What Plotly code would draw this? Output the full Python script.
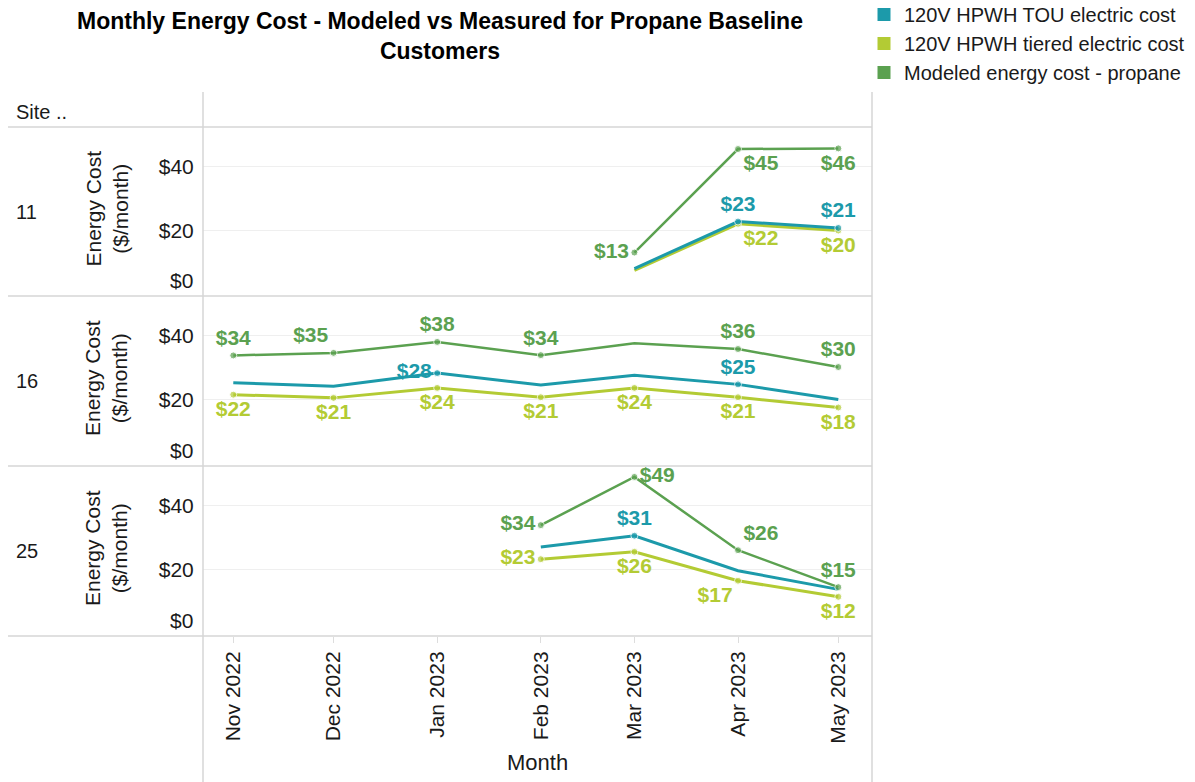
import plotly.graph_objects as go

# ---------------- data ----------------
months = ["2022-11-01", "2022-12-01", "2023-01-01", "2023-02-01",
          "2023-03-01", "2023-04-01", "2023-05-01"]
month_labels = ["Nov 2022", "Dec 2022", "Jan 2023", "Feb 2023",
                "Mar 2023", "Apr 2023", "May 2023"]
sites = ["11", "16", "25"]
series_names = ["120V HPWH TOU electric cost",
                "120V HPWH tiered electric cost",
                "Modeled energy cost - propane"]
y_tick_vals = [20, 40]
y_tick_text = ["$20", "$40"]
y_zero_text = "$0"

site11_tou = [None, None, None, None, 8.0, 22.7, 20.7]
site11_tiered = [None, None, None, None, 7.4, 22.0, 19.9]
site11_propane = [None, None, None, None, 13.0, 45.4, 45.6]

site16_tou = [25.3, 24.2, 28.3, 24.6, 27.6, 24.8, 20.1]
site16_tiered = [21.6, 20.6, 23.7, 20.8, 23.7, 20.8, 17.6]
site16_propane = [33.8, 34.6, 38.0, 33.9, 37.6, 35.8, 30.2]

site25_tou = [None, None, None, 27.1, 30.6, 19.7, 13.9]
site25_tiered = [None, None, None, 23.3, 25.6, 16.6, 11.6]
site25_propane = [None, None, None, 33.9, 48.9, 26.1, 14.6]

# which points carry a data label in the reference (1 = labelled)
site11_tou_lbl = [0, 0, 0, 0, 0, 1, 1]
site11_tiered_lbl = [0, 0, 0, 0, 0, 1, 1]
site11_propane_lbl = [0, 0, 0, 0, 1, 1, 1]
site16_tou_lbl = [0, 0, 1, 0, 0, 1, 0]
site16_tiered_lbl = [1, 1, 1, 1, 1, 1, 1]
site16_propane_lbl = [1, 1, 1, 1, 0, 1, 1]
site25_tou_lbl = [0, 0, 0, 0, 1, 0, 0]
site25_tiered_lbl = [0, 0, 0, 1, 1, 1, 1]
site25_propane_lbl = [0, 0, 0, 1, 1, 1, 1]

# ---------------- styling ----------------
W, H = 1195, 782
FONT = "Liberation Sans, Arial, sans-serif"
colors = {"tou": "#1C9AAA", "tiered": "#B3CB34", "propane": "#5BA150"}
widths = {"tou": 3, "tiered": 3, "propane": 2.5}

pos = {
    ("11", "tou"): ["top center"] * 7,
    ("11", "tiered"): ["bottom center"] * 5 + ["bottom right", "bottom center"],
    ("11", "propane"): ["top center"] * 4 + ["middle left", "bottom right", "bottom center"],
    ("16", "tou"): ["top center", "top center", "middle left", "top center",
                    "top center", "top center", "top center"],
    ("16", "tiered"): ["bottom center"] * 7,
    ("16", "propane"): ["top center", "top left", "top center", "top center",
                        "top center", "top center", "top center"],
    ("25", "tou"): ["top center"] * 7,
    ("25", "tiered"): ["bottom center"] * 3 + ["middle left", "bottom center",
                                               "bottom left", "bottom center"],
    ("25", "propane"): ["top center"] * 3 + ["middle left", "middle right",
                                             "top right", "top center"],
}

data = {
    "11": {"tou": (site11_tou, site11_tou_lbl), "tiered": (site11_tiered, site11_tiered_lbl),
           "propane": (site11_propane, site11_propane_lbl)},
    "16": {"tou": (site16_tou, site16_tou_lbl), "tiered": (site16_tiered, site16_tiered_lbl),
           "propane": (site16_propane, site16_propane_lbl)},
    "25": {"tou": (site25_tou, site25_tou_lbl), "tiered": (site25_tiered, site25_tiered_lbl),
           "propane": (site25_propane, site25_propane_lbl)},
}


def fx(px):
    return px / W


def fy(py):
    return 1 - py / H


panel_px = [(127, 296), (296, 466), (466, 636)]
x_dom = [fx(203), fx(872)]
x_range = ["2022-10-22 22:30", "2023-05-11 02:00"]
y_range = [-0.6, 52.3]

fig = go.Figure()

for i, site in enumerate(sites):
    ax = "" if i == 0 else str(i + 1)
    for key in ["tiered", "tou", "propane"]:
        vals, lbl = data[site][key]
        texts = [f"${v:.0f}" if (v is not None and l) else "" for v, l in zip(vals, lbl)]
        sizes = [7 if l else 0 for l in lbl]
        fig.add_trace(go.Scatter(
            x=months, y=vals, mode="lines+markers+text",
            line=dict(color=colors[key], width=widths[key]),
            marker=dict(size=sizes, color=colors[key]),
            text=texts, textposition=pos[(site, key)],
            textfont=dict(family=FONT, size=21, color=colors[key], weight="bold"),
            cliponaxis=False, showlegend=False, hoverinfo="skip",
            xaxis="x" + ax, yaxis="y" + ax,
        ))

# legend entries (square swatches)
for name, key in zip(series_names, ["tou", "tiered", "propane"]):
    fig.add_trace(go.Scatter(
        x=[None], y=[None], mode="markers", name=name,
        marker=dict(symbol="square", size=13, color=colors[key]),
        xaxis="x3", yaxis="y3",
    ))

layout = dict(
    width=W, height=H, autosize=False,
    margin=dict(l=0, r=0, t=0, b=0, pad=0, autoexpand=False),
    paper_bgcolor="white", plot_bgcolor="white",
    font=dict(family=FONT, size=20, color="#1a1a1a"),
    legend=dict(
        x=fx(864), y=1 + 5 / H, xanchor="left", yanchor="top",
        font=dict(family=FONT, size=20, color="#1a1a1a"),
        itemwidth=30, tracegroupgap=0, bgcolor="rgba(0,0,0,0)",
    ),
    showlegend=True,
)

for i in range(3):
    ax = "" if i == 0 else str(i + 1)
    top, bot = panel_px[i]
    layout["xaxis" + ax] = dict(
        domain=x_dom, range=x_range, type="date",
        anchor="y" + ax, automargin=False,
        tickvals=months, ticktext=month_labels,
        showticklabels=(i == 2), tickangle=-90,
        ticks="outside" if i == 2 else "", ticklen=6, tickcolor="#dddddd",
        tickfont=dict(family=FONT, size=21, color="#1a1a1a"),
        showgrid=False, zeroline=False, showline=False,
        fixedrange=True,
    )
    layout["yaxis" + ax] = dict(
        domain=[fy(bot), fy(top)], range=y_range,
        anchor="x" + ax, automargin=False,
        tickvals=y_tick_vals, ticktext=y_tick_text,
        ticks="outside", ticklen=4, tickcolor="rgba(0,0,0,0)",
        tickfont=dict(family=FONT, size=21, color="#1a1a1a"),
        showgrid=True, gridcolor="#efefef", gridwidth=1,
        zeroline=False, showline=False, fixedrange=True,
    )

fig.update_layout(**layout)

shapes = []
for py in [127, 296, 466, 636]:
    shapes.append(dict(type="line", xref="paper", yref="paper",
                       x0=fx(8), x1=fx(872), y0=fy(py), y1=fy(py),
                       line=dict(color="#d6d6d6", width=1.5)))
for px in [203, 872]:
    shapes.append(dict(type="line", xref="paper", yref="paper",
                       x0=fx(px), x1=fx(px), y0=fy(92), y1=fy(782),
                       line=dict(color="#d6d6d6", width=1.5)))

annotations = [
    dict(text="<b>Monthly Energy Cost - Modeled vs Measured for Propane Baseline<br>Customers</b>",
         x=fx(440), y=fy(6), xref="paper", yref="paper",
         xanchor="center", yanchor="top", showarrow=False,
         font=dict(family=FONT, size=23, color="#000000")),
    dict(text="Site ..", x=fx(14), y=fy(112), xref="paper", yref="paper",
         xanchor="left", yanchor="middle", showarrow=False,
         font=dict(family=FONT, size=20, color="#1a1a1a")),
    dict(text="Month", x=fx(537), y=fy(762), xref="paper", yref="paper",
         xanchor="center", yanchor="middle", showarrow=False,
         font=dict(family=FONT, size=22, color="#1a1a1a")),
]
for i, site in enumerate(sites):
    ax = "" if i == 0 else str(i + 1)
    top, bot = panel_px[i]
    mid = (top + bot) / 2
    annotations.append(dict(text=site, x=fx(14), y=fy(mid), xref="paper", yref="paper",
                            xanchor="left", yanchor="middle", showarrow=False,
                            font=dict(family=FONT, size=20, color="#1a1a1a")))
    annotations.append(dict(text="Energy Cost<br>($/month)", x=fx(106), y=fy(mid - 3),
                            xref="paper", yref="paper", textangle=-90,
                            xanchor="center", yanchor="middle", showarrow=False,
                            font=dict(family=FONT, size=21, color="#1a1a1a")))
    # the $0 tick label sits just above the pane's bottom border (as in Tableau)
    annotations.append(dict(text=y_zero_text, x=fx(195), y=0, xref="paper", yref="y" + ax,
                            xanchor="right", yanchor="bottom", showarrow=False,
                            font=dict(family=FONT, size=21, color="#1a1a1a")))

fig.update_layout(shapes=shapes, annotations=annotations)
fig.write_html(
    "out.html",
    config={"displayModeBar": False, "responsive": False},
    post_script=("document.documentElement.style.margin='0';"
                 "document.documentElement.style.overflow='hidden';"
                 "document.body.style.margin='0';"
                 "document.body.style.padding='0';"
                 "document.body.style.overflow='hidden';"),
)
